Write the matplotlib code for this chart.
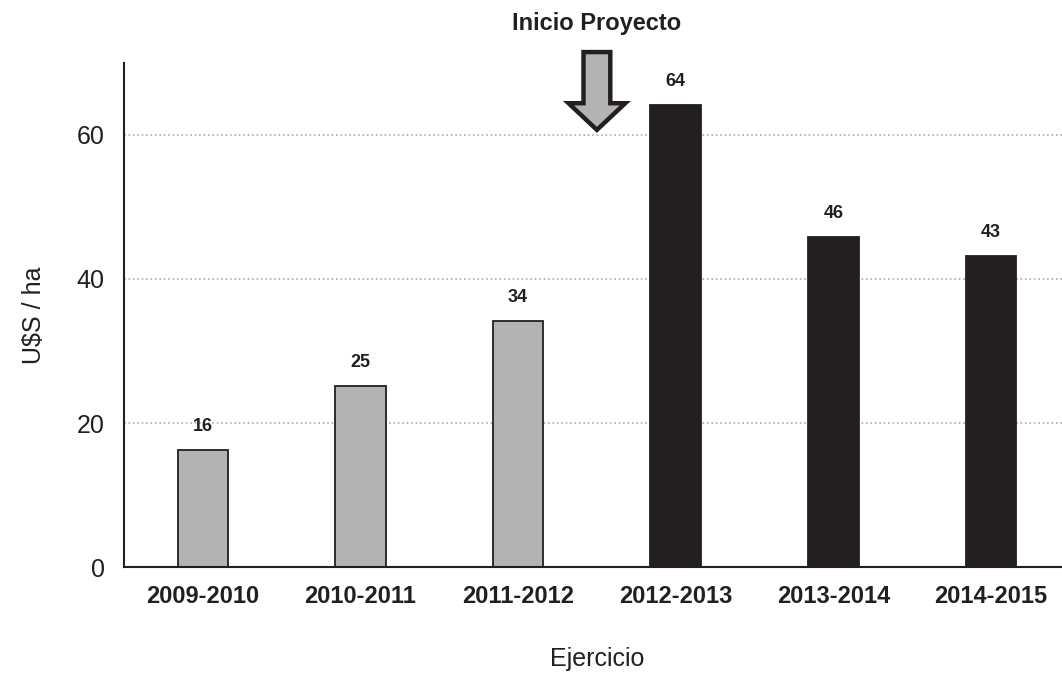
import numpy as np
import matplotlib
matplotlib.use("Agg")
import matplotlib.pyplot as plt
from matplotlib.patches import FancyArrow

plt.rcParams['font.family'] = ['Liberation Sans', 'DejaVu Sans']

# data
ejercicios = ['2009-2010', '2010-2011', '2011-2012', '2012-2013', '2013-2014', '2014-2015']
usd_ha = [16.2, 25.1, 34.1, 64.1, 45.8, 43.2]
etiquetas = ['16', '25', '34', '64', '46', '43']
con_proyecto = [False, False, False, True, True, True]

gris = '#b3b3b3'
negro = '#231f20'

fig = plt.figure(figsize=(10.62, 6.76), dpi=100)
ax = fig.add_axes([0.1168, 0.161, 0.8905, 0.746])

x = np.arange(len(ejercicios))
colores = [negro if p else gris for p in con_proyecto]
ax.bar(x, usd_ha, width=0.32, color=colores, edgecolor=negro, linewidth=1.3, zorder=3)

for xi, v, lab in zip(x, usd_ha, etiquetas):
    ax.text(xi, v + 3.3, lab, ha='center', va='center', fontsize=13,
            fontweight='bold', color=negro)

ax.set_xlim(-0.5, 5.5)
ax.set_ylim(0, 70)
ax.set_yticks([0, 20, 40, 60])
ax.set_xticks(x)
ax.set_xticklabels(ejercicios, fontsize=17, fontweight='bold', color=negro)
ax.tick_params(axis='x', length=0, pad=13)
ax.tick_params(axis='y', length=0, pad=14, labelsize=18, labelcolor=negro)
ax.grid(axis='y', color='#aaaaaa', linestyle=':', linewidth=1.2, zorder=0)

for s in ['top', 'right']:
    ax.spines[s].set_visible(False)
for s in ['left', 'bottom']:
    ax.spines[s].set_color(negro)
    ax.spines[s].set_linewidth(1.5)
    ax.spines[s].set_zorder(4)

ax.set_xlabel('Ejercicio', fontsize=18, color=negro, labelpad=28)
ax.set_ylabel('U$S / ha', fontsize=18, color=negro, labelpad=22)

# arrow marking project start
flecha = FancyArrow(2.5, 71.5, 0, -10.8, width=0.17, head_width=0.36,
                    head_length=3.7, length_includes_head=True,
                    facecolor=gris, edgecolor=negro, linewidth=3.2, clip_on=False, zorder=5)
ax.add_patch(flecha)
ax.text(2.5, 75.4, 'Inicio Proyecto', ha='center', va='center', fontsize=17,
        fontweight='bold', color=negro, clip_on=False)

fig.savefig('out.png', dpi=100)
